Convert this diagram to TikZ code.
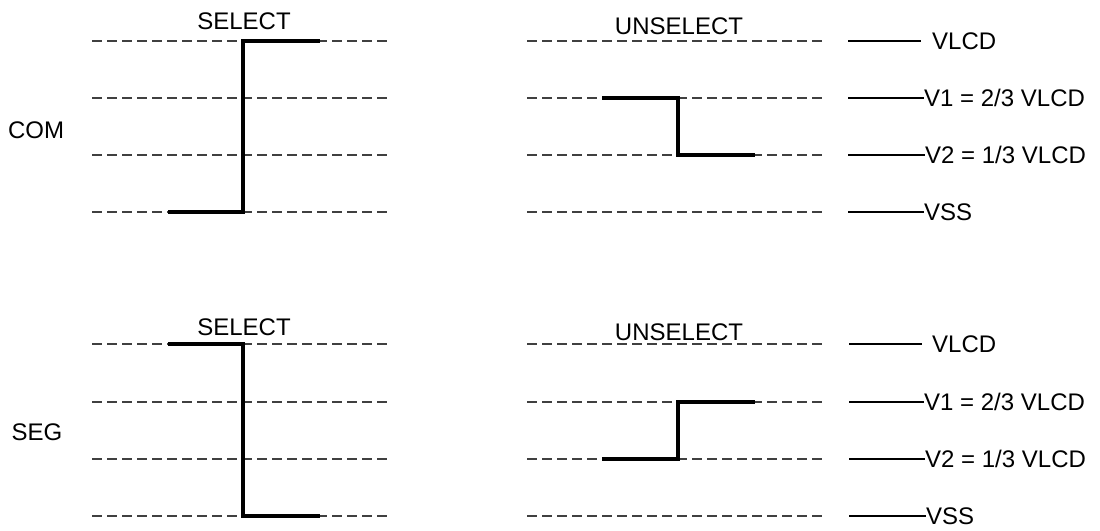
\documentclass[tikz,border=0pt]{standalone}
\usepackage{fontspec}
\setmainfont{Liberation Sans}
\usetikzlibrary{positioning}

\begin{document}
\begin{tikzpicture}[
  x=1pt, y=-1pt,
  font=\fontsize{24}{28}\selectfont,
  level/.style={draw=black!75, line width=1.5pt, dash pattern=on 10pt off 5pt},
  wave/.style={draw=black, line width=4pt, line join=miter},
  key/.style={draw=black, line width=2.8pt},
  lbl/.style={inner sep=0pt, text height=17.3pt, text depth=0pt},
  volt/.style={lbl, anchor=west}
]
  \useasboundingbox (0,0) rectangle (1100,530);

  % dashed voltage levels
  \foreach \y in {41,98,155,212,344,402,459,516} {
    \draw[level] (92,\y) -- (390,\y);
    \draw[level] (527,\y) -- (825,\y);
  }

  % titles
  \node[lbl] (com) at (36,130) {COM};
  \node[lbl] (seg) at (37,432) {SEG};
  \node[lbl] (comsel) at (244,21) {SELECT};
  \node[lbl] (comunsel) at (679,26) {UNSELECT};
  \node[lbl] (segsel) at (244,327) {SELECT};
  \node[lbl] (segunsel) at (679,332) {UNSELECT};

  % waveforms
  \draw[wave] (168,212) -- (243,212) -- (243,41) -- (320,41);
  \draw[wave] (602,98) -- (678,98) -- (678,155) -- (755,155);
  \draw[wave] (168,344) -- (243,344) -- (243,516) -- (320,516);
  \draw[wave] (602,459) -- (678,459) -- (678,402) -- (755,402);

  % legend, COM
  \node[volt] (cvlcd) at (932,41) {VLCD};
  \node[volt] (cv1) at (924,98) {V1 = 2/3 VLCD};
  \node[volt] (cv2) at (925,155) {V2 = 1/3 VLCD};
  \node[volt] (cvss) at (924,212) {VSS};
  \draw[key] (848,41) -- (921,41);
  \draw[key] (848,98) -- (cv1.west);
  \draw[key] (848,155) -- (cv2.west);
  \draw[key] (848,212) -- (cvss.west);

  % legend, SEG
  \node[volt] (svlcd) at (932,344) {VLCD};
  \node[volt] (sv1) at (924,402) {V1 = 2/3 VLCD};
  \node[volt] (sv2) at (925,459) {V2 = 1/3 VLCD};
  \node[volt] (svss) at (926,516) {VSS};
  \draw[key] (849,344) -- (922,344);
  \draw[key] (849,402) -- (sv1.west);
  \draw[key] (849,459) -- (sv2.west);
  \draw[key] (849,516) -- (svss.west);
\end{tikzpicture}
\end{document}
